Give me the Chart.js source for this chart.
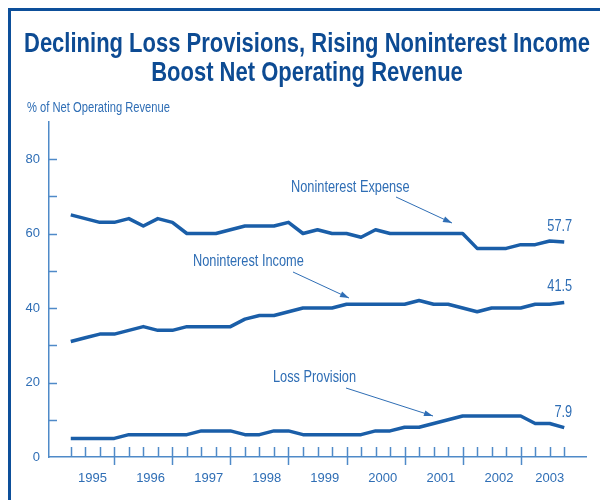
<!DOCTYPE html>
<html>
<head>
<meta charset="utf-8">
<script src="https://cdn.jsdelivr.net/npm/chart.js@4/dist/chart.umd.min.js"></script>
<style>
  html, body { margin: 0; padding: 0; background: #ffffff; }
  #wrap { width: 600px; height: 500px; position: relative; }
</style>
</head>
<body>
<div id="wrap"><canvas id="c" width="600" height="500"></canvas></div>
<script>
// ---- Data ----
const quarters = [
  '1995Q1','1995Q2','1995Q3','1995Q4','1996Q1','1996Q2','1996Q3','1996Q4',
  '1997Q1','1997Q2','1997Q3','1997Q4','1998Q1','1998Q2','1998Q3','1998Q4',
  '1999Q1','1999Q2','1999Q3','1999Q4','2000Q1','2000Q2','2000Q3','2000Q4',
  '2001Q1','2001Q2','2001Q3','2001Q4','2002Q1','2002Q2','2002Q3','2002Q4',
  '2003Q1','2003Q2','2003Q3'
];
const yearLabels = ['1995','1996','1997','1998','1999','2000','2001','2002','2003'];
const noninterestExpense = [65,64,63,63,64,62,64,63,60,60,60,61,62,62,62,63,60,61,60,60,59,61,60,60,60,60,60,60,56,56,56,57,57,58,57.7];
const noninterestIncome  = [31,32,33,33,34,35,34,34,35,35,35,35,37,38,38,39,40,40,40,41,41,41,41,41,42,41,41,40,39,40,40,40,41,41,41.5];
const lossProvision      = [5,5,5,5,6,6,6,6,6,7,7,7,6,6,7,7,6,6,6,6,6,7,7,8,8,9,10,11,11,11,11,11,9,9,7.9];
const yTicks = [0,10,20,30,40,50,60,70,80];
const yLabelTicks = [0,20,40,60,80];
const titleLines = ['Declining Loss Provisions, Rising Noninterest Income', 'Boost Net Operating Revenue'];
const yAxisTitle = '% of Net Operating Revenue';
const seriesNames = ['Noninterest Expense','Noninterest Income','Loss Provision'];

// ---- Styles ----
const LINE = '#1a5ea8';
const AXIS = '#4f8ac8';
const TEXT = '#2f6eb5';
const TITLE = '#0d4b93';
const FRAME = '#0d4f9a';
const FONT = '"Liberation Sans", Arial, sans-serif';

function toPoints(arr) { return arr.map((v, i) => ({ x: i, y: v })); }

function yearCenters() {
  const out = [];
  yearLabels.forEach((yr) => {
    const idx = [];
    quarters.forEach((q, i) => { if (q.startsWith(yr)) idx.push(i); });
    out.push((idx[0] + idx[idx.length - 1]) / 2);
  });
  return out;
}

function condText(ctx, text, x, y, sx, align) {
  ctx.save();
  ctx.translate(x, y);
  ctx.scale(sx, 1);
  ctx.textAlign = align || 'left';
  ctx.fillText(text, 0, 0);
  ctx.restore();
}

function arrow(ctx, x1, y1, x2, y2) {
  ctx.save();
  ctx.strokeStyle = TEXT; ctx.fillStyle = TEXT; ctx.lineWidth = 1;
  ctx.beginPath(); ctx.moveTo(x1, y1); ctx.lineTo(x2, y2); ctx.stroke();
  const a = Math.atan2(y2 - y1, x2 - x1), L = 9, W = 3;
  ctx.beginPath();
  ctx.moveTo(x2, y2);
  ctx.lineTo(x2 - L * Math.cos(a) + W * Math.sin(a), y2 - L * Math.sin(a) - W * Math.cos(a));
  ctx.lineTo(x2 - L * Math.cos(a) - W * Math.sin(a), y2 - L * Math.sin(a) + W * Math.cos(a));
  ctx.closePath(); ctx.fill();
  ctx.restore();
}

const decor = {
  id: 'decor',
  beforeDraw(chart) {
    const ctx = chart.ctx;
    ctx.save();
    ctx.fillStyle = '#ffffff';
    ctx.fillRect(0, 0, chart.width, chart.height);
    ctx.restore();
  },
  afterDraw(chart) {
    const ctx = chart.ctx;
    const xs = chart.scales.x, ys = chart.scales.y;
    ctx.save();
    ctx.textBaseline = 'alphabetic';
    // frame
    ctx.fillStyle = FRAME;
    ctx.fillRect(8, 8, 592, 3);
    ctx.fillRect(8, 8, 3, 492);

    // title (condensed)
    ctx.fillStyle = TITLE;
    ctx.font = 'bold 27px ' + FONT;
    const w1 = ctx.measureText(titleLines[0]).width;
    const sx = 566 / w1;
    condText(ctx, titleLines[0], 307, 52, sx, 'center');
    condText(ctx, titleLines[1], 307, 81, sx, 'center');

    // y axis title
    ctx.fillStyle = TEXT;
    ctx.font = '14px ' + FONT;
    const wy = ctx.measureText(yAxisTitle).width;
    condText(ctx, yAxisTitle, 27, 112, 143 / wy, 'left');

    // y ticks (inside)
    ctx.strokeStyle = AXIS; ctx.lineWidth = 1.5;
    const x0 = xs.left;
    yTicks.forEach(t => {
      if (t === 0) return;
      const y = Math.round(ys.getPixelForValue(t)) + 0.5;
      ctx.beginPath(); ctx.moveTo(x0, y); ctx.lineTo(x0 + 8, y); ctx.stroke();
    });
    // x ticks
    const yb = ys.bottom;
    quarters.forEach((q, i) => {
      const x = Math.round(xs.getPixelForValue(i)) + 0.5;
      const major = q.endsWith('Q4');
      ctx.beginPath(); ctx.moveTo(x, yb - 10); ctx.lineTo(x, major ? yb + 8 : yb); ctx.stroke();
    });

    // annotations
    ctx.fillStyle = TEXT;
    ctx.font = '16px ' + FONT;
    const wa = ctx.measureText(seriesNames[0]).width;
    const sa = 118.6 / wa;
    condText(ctx, seriesNames[0], 291, 192, sa, 'left');
    arrow(ctx, 396, 197, 452, 223);
    condText(ctx, seriesNames[1], 193, 266, sa, 'left');
    arrow(ctx, 293, 272, 349, 298);
    condText(ctx, seriesNames[2], 273, 382, sa, 'left');
    arrow(ctx, 346, 388, 433, 416);

    // end values
    [noninterestExpense, noninterestIncome, lossProvision].forEach(arr => {
      const i = arr.length - 1;
      const px = xs.getPixelForValue(i), py = ys.getPixelForValue(arr[i]);
      condText(ctx, String(arr[i]), px + 8, py - 11, sa, 'right');
    });
    ctx.restore();
  }
};

const dsStyle = { borderColor: LINE, borderWidth: 3.5, pointRadius: 0, fill: false, tension: 0, borderJoinStyle: 'round' };

new Chart(document.getElementById('c'), {
  type: 'line',
  data: {
    datasets: [
      Object.assign({ label: seriesNames[0], data: toPoints(noninterestExpense) }, dsStyle),
      Object.assign({ label: seriesNames[1], data: toPoints(noninterestIncome) }, dsStyle),
      Object.assign({ label: seriesNames[2], data: toPoints(lossProvision) }, dsStyle)
    ]
  },
  options: {
    responsive: false,
    animation: false,
    devicePixelRatio: 1,
    layout: { padding: { left: 0, right: 14, top: 121.75, bottom: 0 } },
    plugins: { legend: { display: false }, title: { display: false }, tooltip: { enabled: false } },
    scales: {
      x: {
        type: 'linear', min: -1.5, max: 35.5,
        grid: { display: false },
        border: { display: true, color: AXIS, width: 1.5 },
        afterBuildTicks: (s) => { s.ticks = yearCenters().map(v => ({ value: v })); },
        afterFit: (s) => { s.height = 43; },
        ticks: {
          autoSkip: false, maxRotation: 0, padding: 6,
          color: TEXT, font: { family: FONT, size: 13 },
          callback: (v) => { const c = yearCenters(); const k = c.indexOf(v); return k >= 0 ? yearLabels[k] : ''; }
        }
      },
      y: {
        min: 0, max: 90,
        grid: { display: false },
        border: { display: true, color: AXIS, width: 1.5 },
        afterBuildTicks: (s) => { s.ticks = yTicks.map(v => ({ value: v })); },
        afterFit: (s) => { s.width = 49; },
        ticks: {
          padding: 1, color: TEXT, font: { family: FONT, size: 13 },
          callback: (v) => yLabelTicks.includes(v) ? String(v) : ''
        }
      }
    }
  },
  plugins: [decor]
});
</script>
</body>
</html>
